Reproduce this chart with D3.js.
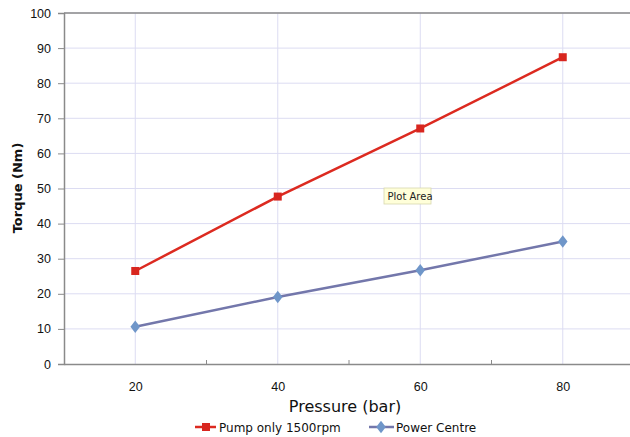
<!DOCTYPE html>
<html><head><meta charset="utf-8">
<script src="https://cdn.jsdelivr.net/npm/d3@7"></script>
<style>body{margin:0;background:#fff}svg{display:block;font-family:"DejaVu Sans",sans-serif}</style>
</head><body><svg id="c" width="630" height="437"></svg>
<script>
const pressure = [20, 40, 60, 80];
const pumpOnly = [26.5, 47.7, 67.1, 87.4];
const powerCentre = [10.6, 19.1, 26.7, 34.9];
const yTicks = [0,10,20,30,40,50,60,70,80,90,100];
const xTicks = [20,40,60,80];
const xMinor = [30,50,70];
const seriesNames = ["Pump only 1500rpm", "Power Centre"];

const svg = d3.select("#c");
const x = d3.scaleLinear().domain([10, 90]).range([64, 634]);
const y = d3.scaleLinear().domain([0, 100]).range([364, 13]);

const g = svg.append("g");
// grid
g.selectAll(".hg").data(yTicks.slice(1)).join("line")
 .attr("x1", 64).attr("x2", 630).attr("y1", d=>y(d)).attr("y2", d=>y(d))
 .attr("stroke", "#dcdcf2").attr("stroke-width", 1);
g.selectAll(".vg").data(xTicks).join("line")
 .attr("x1", d=>x(d)).attr("x2", d=>x(d)).attr("y1", y(100)).attr("y2", y(0))
 .attr("stroke", "#dcdcf2").attr("stroke-width", 1);
// top border
g.append("line").attr("x1",64).attr("x2",630).attr("y1",y(100)).attr("y2",y(100)).attr("stroke","#8a8a8a").attr("stroke-width",1.5);

// axes
const yAxis = d3.axisLeft(y).tickValues(yTicks).tickSize(6).tickPadding(7);
const ya = svg.append("g").attr("transform","translate(64,0)").call(yAxis);
ya.select(".domain").attr("stroke","#8a8a8a").attr("stroke-width",1.5);
ya.selectAll(".tick line").attr("stroke","#8a8a8a");
ya.selectAll("text").attr("font-size",12.5).attr("fill","#111");

const xAxis = d3.axisBottom(x).tickValues(xTicks).tickSize(0).tickPadding(18);
const xa = svg.append("g").attr("transform",`translate(0,${y(0)})`).call(xAxis);
xa.select(".domain").attr("stroke","#8a8a8a").attr("stroke-width",1.5);
xa.selectAll("text").attr("font-size",12.5).attr("fill","#111");
svg.append("g").selectAll("line").data(xMinor).join("line")
 .attr("x1",d=>x(d)).attr("x2",d=>x(d)).attr("y1",y(0)-4).attr("y2",y(0))
 .attr("stroke","#8a8a8a");

// titles
svg.append("text").attr("x",345).attr("y",412).attr("text-anchor","middle")
 .attr("font-size",16).attr("fill","#111").text("Pressure (bar)");
svg.append("text").attr("transform","translate(22,188) rotate(-90)").attr("text-anchor","middle")
 .attr("font-size",13).attr("font-weight","bold").attr("fill","#111").text("Torque (Nm)");

// lines
const line = d3.line().x((d,i)=>x(pressure[i])).y(d=>y(d));
svg.append("path").datum(powerCentre).attr("d",line).attr("fill","none").attr("stroke","#7377ab").attr("stroke-width",2.5);
svg.append("path").datum(pumpOnly).attr("d",line).attr("fill","none").attr("stroke","#dc2a20").attr("stroke-width",2.5);
svg.append("g").selectAll("rect").data(pumpOnly).join("rect")
 .attr("x",(d,i)=>x(pressure[i])-4).attr("y",d=>y(d)-4).attr("width",8).attr("height",8).attr("fill","#d8261f");
svg.append("g").selectAll("path").data(powerCentre).join("path")
 .attr("d",d3.symbol(d3.symbolDiamond,55))
 .attr("transform",(d,i)=>`translate(${x(pressure[i])},${y(d)}) scale(1.2,0.9)`).attr("fill","#6f96c9");

// tooltip
const tt = svg.append("g").attr("transform","translate(384,188)");
tt.append("rect").attr("width",47).attr("height",16).attr("fill","#ffffd9").attr("stroke","#d8d8b0").attr("stroke-width",0.8);
tt.append("text").attr("x",3.5).attr("y",12).attr("font-size",10).attr("fill","#222").text("Plot Area");

// legend
const lg = svg.append("g");
lg.append("line").attr("x1",195).attr("x2",216).attr("y1",427).attr("y2",427).attr("stroke","#dc2a20").attr("stroke-width",2.5);
lg.append("rect").attr("x",202).attr("y",423).attr("width",8).attr("height",8).attr("fill","#d8261f");
lg.append("text").attr("x",219).attr("y",432).attr("font-size",12).attr("fill","#111").text(seriesNames[0]);
lg.append("line").attr("x1",369).attr("x2",394).attr("y1",427).attr("y2",427).attr("stroke","#7377ab").attr("stroke-width",2.5);
lg.append("path").attr("d",d3.symbol(d3.symbolDiamond,55)).attr("transform","translate(381,427) scale(1.2,0.9)").attr("fill","#6f96c9");
lg.append("text").attr("x",396).attr("y",432).attr("font-size",12).attr("fill","#111").text(seriesNames[1]);
</script></body></html>
